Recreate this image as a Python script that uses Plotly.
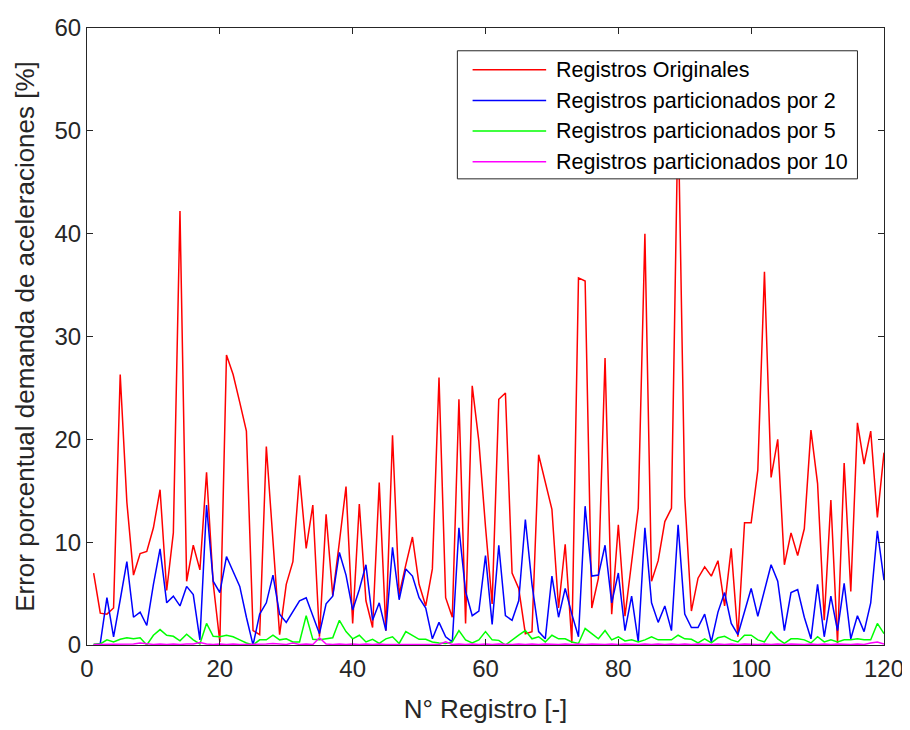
import plotly.graph_objects as go

registro = list(range(1, 121))

originales = [7.0, 3.1, 3.0, 3.6, 26.3, 13.9, 6.8, 8.9, 9.1, 11.4,
              15.1, 5.3, 10.9, 42.2, 6.2, 9.7, 7.3, 16.8, 6.0, 0.3,
              28.2, 26.3, 23.6, 20.8, 1.4, 1.0, 19.3, 10.5, 1.0, 5.9,
              8.1, 16.5, 9.4, 13.6, 0.8, 12.7, 4.8, 10.0, 15.4, 2.1,
              13.7, 4.3, 1.7, 15.8, 1.4, 20.4, 4.9, 7.8, 10.5, 5.9,
              3.8, 7.4, 26.0, 4.6, 2.7, 23.9, 2.1, 25.2, 19.8, 11.5,
              4.0, 23.9, 24.5, 7.0, 5.5, 1.1, 1.3, 18.5, 15.8, 13.2,
              3.6, 9.8, 0.2, 35.7, 35.4, 3.6, 6.5, 27.9, 3.0, 11.7,
              2.8, 8.1, 13.3, 40.0, 6.2, 8.2, 12.0, 13.3, 52.0, 14.4,
              3.3, 6.5, 7.6, 6.7, 8.2, 3.8, 9.4, 0.8, 11.9, 11.9,
              17.0, 36.3, 16.3, 20.0, 7.8, 10.9, 8.7, 11.3, 20.9, 15.7,
              2.4, 14.1, 0.2, 17.7, 5.2, 21.6, 17.6, 20.8, 12.4, 18.7]

por2 = [0.0, 0.15, 4.6, 0.8, 4.4, 8.1, 2.7, 3.2, 1.9, 5.9,
        9.35, 4.1, 4.75, 3.8, 5.7, 4.9, 0.5, 13.6, 6.2, 5.1,
        8.6, 7.1, 5.7, 2.7, 0.0, 3.0, 4.1, 6.8, 3.0, 2.2,
        3.3, 4.3, 4.6, 2.85, 1.1, 4.0, 4.75, 9.0, 6.8, 3.4,
        5.4, 7.8, 2.4, 4.1, 1.4, 9.5, 4.4, 7.4, 6.7, 4.6,
        3.6, 0.6, 2.2, 0.8, 0.3, 11.4, 5.2, 2.85, 3.3, 8.7,
        2.0, 9.7, 2.85, 2.4, 4.3, 12.2, 5.9, 1.3, 0.6, 6.7,
        2.7, 5.5, 3.0, 0.8, 13.5, 6.7, 6.8, 9.7, 4.1, 7.0,
        1.4, 4.75, 0.3, 11.4, 4.1, 2.2, 3.8, 1.4, 11.7, 3.0,
        1.7, 1.7, 3.0, 0.3, 3.2, 5.1, 2.1, 1.0, 3.2, 5.5,
        2.8, 5.2, 7.8, 6.2, 1.4, 5.1, 5.4, 2.7, 0.6, 5.9,
        0.8, 4.75, 1.4, 6.0, 0.6, 2.85, 1.3, 4.1, 11.1, 6.3]

por5 = [0.1, 0.1, 0.5, 0.3, 0.55, 0.7, 0.6, 0.7, 0.0, 0.95,
        1.5, 0.95, 0.85, 0.4, 1.05, 0.5, 0.1, 2.1, 0.85, 0.8,
        0.95, 0.8, 0.5, 0.2, 0.0, 0.5, 0.5, 0.95, 0.5, 0.6,
        0.3, 0.3, 2.85, 0.55, 0.5, 0.6, 0.7, 2.4, 1.3, 0.6,
        0.95, 0.3, 0.55, 0.15, 0.6, 0.8, 0.15, 1.3, 0.95, 0.55,
        0.55, 0.3, 0.2, 0.15, 0.3, 1.4, 0.5, 0.2, 0.5, 1.3,
        0.5, 0.45, 0.0, 0.5, 0.95, 1.4, 0.6, 0.8, 0.3, 0.95,
        0.6, 0.6, 0.3, 0.15, 1.6, 1.1, 0.6, 1.4, 0.5, 0.8,
        0.4, 0.5, 0.3, 0.5, 0.8, 0.5, 0.5, 0.5, 0.95, 0.6,
        0.55, 0.2, 0.6, 0.2, 0.7, 0.85, 0.5, 0.3, 0.95, 0.95,
        0.5, 0.3, 1.3, 0.6, 0.15, 0.6, 0.6, 0.5, 0.2, 0.8,
        0.3, 0.5, 0.3, 0.5, 0.5, 0.6, 0.5, 0.5, 2.1, 1.1]

por10 = [0.05, 0.05, 0.1, 0.05, 0.1, 0.05, 0.1, 0.2, 0.1, 0.05,
         0.1, 0.05, 0.1, 0.05, 0.1, 0.1, 0.25, 0.1, 0.05, 0.1,
         0.05, 0.1, 0.05, 0.05, 0.1, 0.05, 0.1, 0.15, 0.1, 0.05,
         0.2, 0.05, 0.1, 0.05, 0.7, 0.1, 0.05, 0.1, 0.05, 0.1,
         0.05, 0.1, 0.05, 0.1, 0.05, 0.05, 0.1, 0.05, 0.1, 0.05,
         0.05, 0.1, 0.05, 0.3, 0.05, 0.1, 0.05, 0.1, 0.05, 0.1,
         0.05, 0.1, 0.05, 0.05, 0.1, 0.05, 0.1, 0.05, 0.1, 0.05,
         0.05, 0.1, 0.05, 0.1, 0.05, 0.1, 0.05, 0.05, 0.1, 0.05,
         0.1, 0.05, 0.05, 0.1, 0.05, 0.1, 0.05, 0.1, 0.05, 0.1,
         0.05, 0.1, 0.05, 0.05, 0.1, 0.05, 0.1, 0.05, 0.1, 0.05,
         0.05, 0.1, 0.05, 0.1, 0.05, 0.1, 0.05, 0.05, 0.1, 0.05,
         0.1, 0.05, 0.1, 0.05, 0.05, 0.1, 0.05, 0.2, 0.3, 0.1]

series_names = ["Registros Originales", "Registros particionados por 2",
                "Registros particionados por 5", "Registros particionados por 10"]
series_colors = ["#FF0000", "#0000FF", "#00FF00", "#FF00FF"]

x_ticks = [0, 20, 40, 60, 80, 100, 120]
y_ticks = [0, 10, 20, 30, 40, 50, 60]

FONT = "Liberation Sans, Arial, Helvetica, sans-serif"
AX = "#262626"

fig = go.Figure()
for name, vals, col in zip(series_names, [originales, por2, por5, por10], series_colors):
    fig.add_trace(go.Scatter(x=registro, y=vals, mode="lines", name=name,
                             line=dict(color=col, width=1.5), showlegend=False))

# the page body has an 8px default margin: figure is sized/offset to compensate
fig.update_layout(
    width=902, height=722,
    margin=dict(l=79, r=21, t=6, b=85),
    paper_bgcolor="white", plot_bgcolor="white",
    font=dict(family=FONT, color=AX),
    xaxis=dict(range=[0, 120], tickvals=x_ticks, ticktext=[str(v) for v in x_ticks],
               showgrid=False, zeroline=False, showline=True, linecolor=AX, linewidth=1,
               mirror="ticks", ticks="inside", ticklen=6, tickcolor=AX,
               ticklabelstandoff=2, ticklabeloverflow="allow",
               tickfont=dict(size=24, color=AX),
               title=dict(text="N° Registro [-]", font=dict(size=26, color=AX), standoff=19)),
    yaxis=dict(range=[0, 60], tickvals=y_ticks, ticktext=[str(v) for v in y_ticks],
               showgrid=False, zeroline=False, showline=True, linecolor=AX, linewidth=1,
               mirror="ticks", ticks="inside", ticklen=6, tickcolor=AX,
               ticklabeloverflow="allow",
               tickfont=dict(size=24, color=AX),
               title=dict(text="Error porcentual demanda de aceleraciones [%]",
                          font=dict(size=26, color=AX), standoff=12)),
)

# custom legend box (MATLAB style)
lx0, lx1, ly0, ly1 = 0.4647, 0.9667, 0.7555, 0.9631
fig.add_shape(type="rect", xref="paper", yref="paper", x0=lx0, x1=lx1, y0=ly0, y1=ly1,
              fillcolor="white", line=dict(color=AX, width=1), layer="above")
entry_y = [0.9323, 0.8823, 0.8331, 0.7834]
for name, col, ey in zip(series_names, series_colors, entry_y):
    fig.add_shape(type="line", xref="paper", yref="paper", x0=0.4838, x1=0.5761, y0=ey, y1=ey,
                  line=dict(color=col, width=1.5), layer="above")
    fig.add_annotation(xref="paper", yref="paper", x=0.5860, y=ey, text=name,
                       showarrow=False, xanchor="left", yanchor="middle",
                       font=dict(size=21.5, color="black", family=FONT))

fig.write_html("out.html")
